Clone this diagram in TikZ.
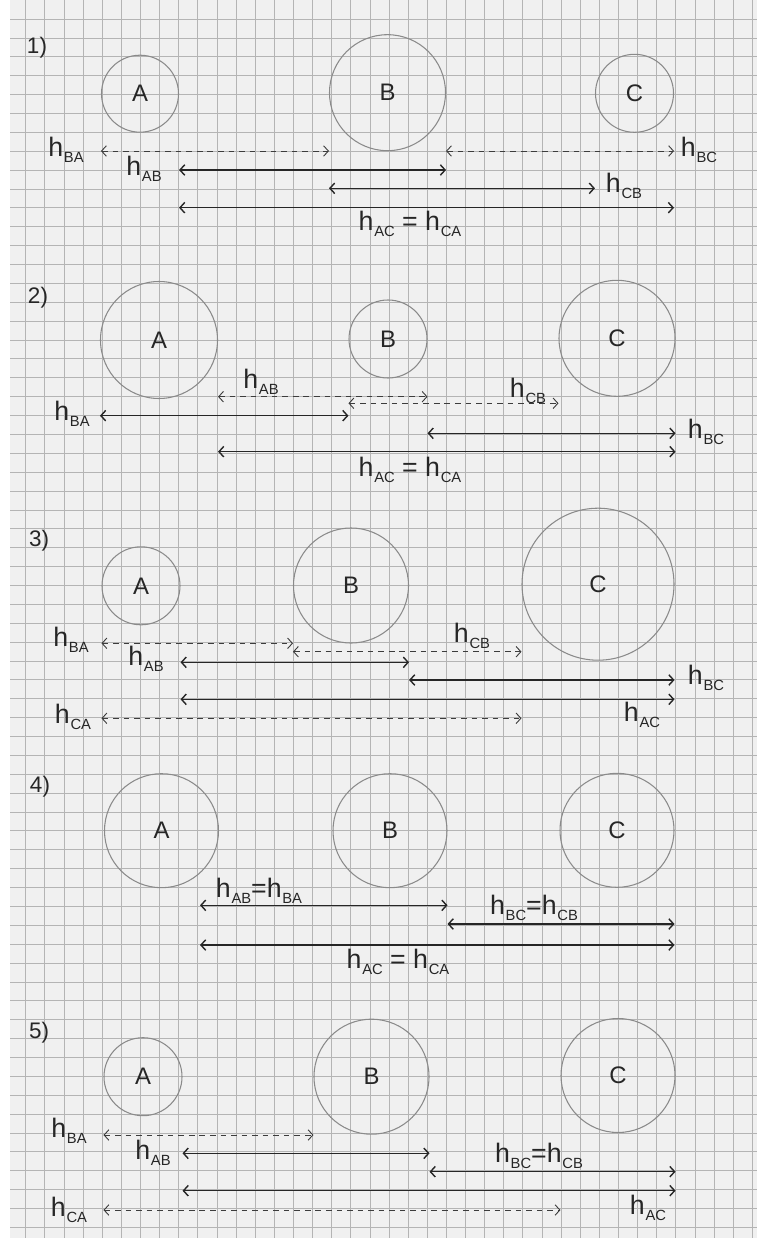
\documentclass[tikz,border=0pt]{standalone}
\usepackage{fontspec}
\setmainfont{Liberation Sans}
\usetikzlibrary{arrows.meta}

\definecolor{gridGray}{HTML}{B4B4B4}
\definecolor{paperTint}{HTML}{F0F0F0}
\definecolor{penLead}{HTML}{8A8A8A}
\definecolor{penDark}{HTML}{262626}
\definecolor{penDash}{HTML}{3C3C3C}

\newcommand{\hsub}[1]{h\kern0.5pt\raisebox{-4.6pt}{\fontsize{10.5}{10.5}\selectfont #1}}

\tikzset{
  gridline/.style={draw=gridGray, line width=0.5pt},
  ball/.style={circle, draw=penLead, line width=0.75pt, inner sep=0pt,
    text=penDark, font=\fontsize{17}{17}\selectfont},
  dist/.style={{Straight Barb[length=3.4pt,width=7.5pt]}-{Straight Barb[length=3.4pt,width=7.5pt]},
    draw=penDark, line width=1pt},
  distdash/.style={dist, draw=penDash, line width=0.65pt, dash pattern=on 4pt off 3.5pt},
  hlabel/.style={text=penDark, font=\fontsize{19}{19}\selectfont, inner sep=0pt},
  panelno/.style={text=penDark, font=\fontsize{16}{16}\selectfont, inner sep=0pt}
}

\begin{document}
\begin{tikzpicture}[x=0.25mm, y=-0.25mm]
\useasboundingbox (0,0) rectangle (757,1238);
% paper
\fill[white] (0,0) rectangle (757,1238);
\fill[paperTint] (10,0) rectangle (757,1238);
\foreach \k in {0,...,38}
  \draw[gridline] ({25.7+19.12*\k},0) -- ({25.7+19.12*\k},1238);
\foreach \k in {0,...,64}
  \draw[gridline] (10,{19+18.88*\k}) -- (757,{19+18.88*\k});

% 1)
\node[panelno] (n1) at (37,47.5) {1)};
\node[ball, minimum size=19.25mm] (A1) at (140,93.7) {A};
\node[ball, minimum size=29mm] (B1) at (387.5,92.7) {B};
\node[ball, minimum size=19.5mm] (C1) at (634.5,93.3) {C};
\draw[distdash] (A1.west |- 0,151) -- (B1.west |- 0,151);
\draw[distdash] (B1.east |- 0,151) -- (C1.east |- 0,151);
\draw[dist] (A1.east |- 0,170) -- (B1.east |- 0,170);
\draw[dist] (B1.west |- 0,188.3) -- (C1.west |- 0,188.3);
\draw[dist] (A1.east |- 0,207.7) -- (C1.east |- 0,207.7);
\node[hlabel] (l1ba) at (66,150) {\hsub{BA}};
\node[hlabel] (l1bc) at (699,150) {\hsub{BC}};
\node[hlabel] (l1ab) at (144,169) {\hsub{AB}};
\node[hlabel] (l1cb) at (624,186) {\hsub{CB}};
\node[hlabel] (l1ac) at (410,224) {\hsub{AC}\ = \hsub{CA}};

% 2)
\node[panelno] (n2) at (38,298) {2)};
\node[ball, minimum size=29.25mm] (A2) at (159,340) {A};
\node[ball, minimum size=19.5mm] (B2) at (388,339) {B};
\node[ball, minimum size=29mm] (C2) at (617,338.3) {C};
\draw[distdash] (A2.east |- 0,396.7) -- (B2.east |- 0,396.7);
\draw[distdash] (B2.west |- 0,403.3) -- (C2.west |- 0,403.3);
\draw[dist] (A2.west |- 0,415.7) -- (B2.west |- 0,415.7);
\draw[dist] (B2.east |- 0,433.3) -- (C2.east |- 0,433.3);
\draw[dist] (A2.east |- 0,451.7) -- (C2.east |- 0,451.7);
\node[hlabel] (l2ab) at (261,382) {\hsub{AB}};
\node[hlabel] (l2cb) at (528,391) {\hsub{CB}};
\node[hlabel] (l2ba) at (72,414) {\hsub{BA}};
\node[hlabel] (l2bc) at (706,432) {\hsub{BC}};
\node[hlabel] (l2ac) at (410,470) {\hsub{AC}\ = \hsub{CA}};

% 3)
\node[panelno] (n3) at (39,541) {3)};
\node[ball, minimum size=19.5mm] (A3) at (141,585.8) {A};
\node[ball, minimum size=28.75mm] (B3) at (351,585.5) {B};
\node[ball, minimum size=38mm] (C3) at (598,584.2) {C};
\draw[distdash] (A3.west |- 0,643.3) -- (B3.west |- 0,643.3);
\draw[distdash] (B3.west |- 0,651.7) -- (C3.west |- 0,651.7);
\draw[dist] (A3.east |- 0,662.3) -- (B3.east |- 0,662.3);
\draw[dist] (B3.east |- 0,680) -- (C3.east |- 0,680);
\draw[dist] (A3.east |- 0,699.3) -- (C3.east |- 0,699.3);
\draw[distdash] (A3.west |- 0,718.3) -- (C3.west |- 0,718.3);
\node[hlabel] (l3ba) at (71,640) {\hsub{BA}};
\node[hlabel] (l3cb) at (472,636) {\hsub{CB}};
\node[hlabel] (l3ab) at (146,659) {\hsub{AB}};
\node[hlabel] (l3bc) at (706,678) {\hsub{BC}};
\node[hlabel] (l3ac) at (642,715) {\hsub{AC}};
\node[hlabel] (l3ca) at (73,717) {\hsub{CA}};

% 4)
\node[panelno] (n4) at (40,787) {4)};
\node[ball, minimum size=28.5mm] (A4) at (161.5,830.7) {A};
\node[ball, minimum size=28.5mm] (B4) at (390,830.7) {B};
\node[ball, minimum size=28.5mm] (C4) at (617,830.3) {C};
\coordinate (A4in) at (200,830.7);
\draw[dist] (A4in |- 0,905.3) -- (B4.east |- 0,905.3);
\draw[dist] (B4.east |- 0,924) -- (C4.east |- 0,924);
\draw[dist] (A4in |- 0,945) -- (C4.east |- 0,945);
\node[hlabel] (l4ab) at (259,891) {\hsub{AB}=\hsub{BA}};
\node[hlabel] (l4bc) at (534,908) {\hsub{BC}=\hsub{CB}};
\node[hlabel] (l4ac) at (398,962) {\hsub{AC}\ = \hsub{CA}};

% 5)
\node[panelno] (n5) at (39,1033) {5)};
\node[ball, minimum size=19.5mm] (A5) at (143,1076.7) {A};
\node[ball, minimum size=28.75mm] (B5) at (371.5,1076.7) {B};
\node[ball, minimum size=28.5mm] (C5) at (618,1075.5) {C};
\draw[distdash] (A5.west |- 0,1135) -- (B5.west |- 0,1135);
\draw[dist] (A5.east |- 0,1153.3) -- (B5.east |- 0,1153.3);
\draw[dist] (B5.east |- 0,1171.7) -- (C5.east |- 0,1171.7);
\draw[dist] (A5.east |- 0,1190.7) -- (C5.east |- 0,1190.7);
\draw[distdash] (A5.west |- 0,1210) -- (C5.west |- 0,1210);
\node[hlabel] (l5ba) at (69,1131) {\hsub{BA}};
\node[hlabel] (l5ab) at (153,1153) {\hsub{AB}};
\node[hlabel] (l5bc) at (539,1156) {\hsub{BC}=\hsub{CB}};
\node[hlabel] (l5ac) at (648,1208) {\hsub{AC}};
\node[hlabel] (l5ca) at (69,1210) {\hsub{CA}};
\end{tikzpicture}
\end{document}
